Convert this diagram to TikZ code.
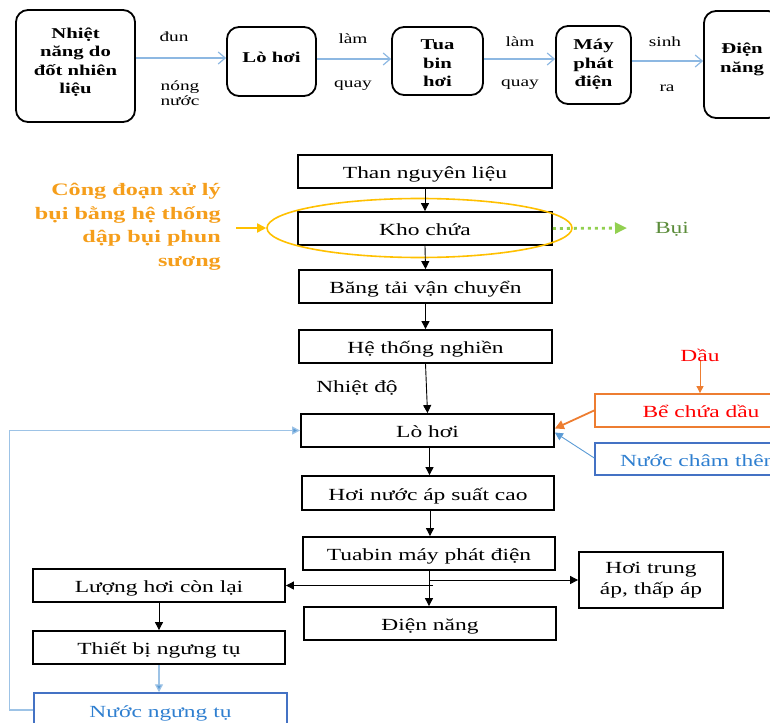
\documentclass[tikz,border=0pt]{standalone}
\usepackage{fontspec}
\setmainfont{Liberation Serif}[FakeStretch=1.38]
\usetikzlibrary{arrows.meta,shapes.geometric,calc}
\definecolor{topblue}{HTML}{8DB8E2}
\definecolor{ortext}{HTML}{F59E1B}
\definecolor{ellcol}{HTML}{FFC000}
\definecolor{orbox}{HTML}{ED7D31}
\definecolor{redtext}{HTML}{FF0000}
\definecolor{bluebox}{HTML}{4472C4}
\definecolor{bluetext}{HTML}{2F7FD0}
\definecolor{lblue}{HTML}{9DC3E6}
\definecolor{tipblue}{HTML}{5B9BD5}
\definecolor{dotgreen}{HTML}{92D050}
\definecolor{greentext}{HTML}{5B8C3A}
\begin{document}
\begin{tikzpicture}[x=1pt,y=-1pt,
  rbx/.style n args={2}{draw=black, line width=1.8pt, rounded corners=12pt, inner sep=0pt,
    minimum width=#1, minimum height=#2},
  rtxt/.style={inner sep=0pt, align=center, font=\fontsize{15}{18.5}\selectfont\bfseries},
  bx/.style n args={2}{draw=black, line width=1.8pt, inner sep=0pt,
    minimum width=#1, minimum height=#2, align=center,
    font=\fontsize{17}{21}\selectfont},
  one/.style={text height=14pt, text depth=0pt},
  lbl/.style={inner sep=0pt, align=center, font=\fontsize{14}{15}\selectfont},
  toparr/.style={draw=topblue, line width=1.2pt, -{Straight Barb[length=7pt,width=12pt]}},
  arr/.style={draw=black, line width=0.9pt, -{Triangle[length=8pt,width=8pt]}},
  orarr/.style={draw=orbox, line width=1.8pt, -{Triangle[length=9pt,width=9pt]}},
  orthin/.style={draw=orbox, line width=0.9pt, -{Triangle[length=7pt,width=7pt]}},
  yelarr/.style={draw=ellcol, line width=1.8pt, -{Triangle[length=9pt,width=9pt]}},
  blarr/.style={draw=lblue, line width=1.3pt, -{Triangle[length=8pt,width=8pt,fill=tipblue]}},
  greenarr/.style={draw=dotgreen, line width=2.8pt, dash pattern=on 3pt off 4pt,
    -{Triangle[length=12pt,width=11pt,fill=dotgreen]}}
]
\useasboundingbox (0,0) rectangle (770,722);
\clip (0,0) rectangle (770,722);

% ---------- top row ----------
\node[rbx={119}{112}] (n1) at (75.5,66) {};
\node[rbx={89}{69}] (lo1) at (271.5,61.5) {};
\node[rbx={91}{68}] (tb) at (437.5,61) {};
\node[rbx={75}{78}] (mp) at (593.5,65) {};
\node[rbx={76}{107}] (dn) at (742,64.5) {};
\node[rtxt] (n1t) at (75.5,62) {Nhiệt\\năng do\\đốt nhiên\\liệu};
\node[rtxt] (lo1t) at (271.5,57) {Lò hơi};
\node[rtxt] (tbt) at (437.5,63.5) {Tua\\bin\\hơi};
\node[rtxt] (mpt) at (593.5,64.5) {Máy\\phát\\điện};
\node[rtxt] (dnt) at (742,59.5) {Điện\\năng};

\draw[toparr] ([yshift=3.5pt]lo1.west -| n1.east) -- ([yshift=3.5pt]lo1.west);
\draw[toparr] ([yshift=2.5pt]lo1.east) -- ([yshift=2.5pt]lo1.east -| tb.west);
\draw[toparr] ([yshift=2pt]tb.east) -- ([yshift=2pt]tb.east -| mp.west);
\draw[toparr] ([yshift=4pt]mp.east) -- ([yshift=4pt]mp.east -| dn.west);

\node[lbl] (l1) at (174,37) {đun};
\node[lbl] (l2) at (180,93) {nóng\\nước};
\node[lbl] (l3) at (353,39) {làm};
\node[lbl] (l4) at (353,86) {quay};
\node[lbl] (l5) at (520,42) {làm};
\node[lbl] (l6) at (520,85) {quay};
\node[lbl] (l7) at (665,42) {sinh};
\node[lbl] (l8) at (667,88) {ra};

% ---------- flowchart ----------
\node[bx={254}{33}, one] (than) at (425,171.5) {Than nguyên liệu};
\node[bx={254}{33}, one] (kho) at (425,228.5) {Kho chứa};
\node[bx={253}{33}, one] (bang) at (425.5,286.5) {Băng tải vận chuyển};
\node[bx={253}{33}, one] (he) at (425.5,346.5) {Hệ thống nghiền};
\node[bx={253}{33}, one] (lo) at (427.5,430.5) {Lò hơi};
\node[bx={252}{34}, one] (hoinuoc) at (428,493) {Hơi nước áp suất cao};
\node[bx={252}{33}, one] (tuabin) at (429,553.5) {Tuabin máy phát điện};
\node[bx={252}{33}, one] (dien) at (430,623.5) {Điện năng};
\node[bx={252}{33}, one] (luong) at (159,585.5) {Lượng hơi còn lại};
\node[bx={252}{33}, one] (thietbi) at (159,647.5) {Thiết bị ngưng tụ};
\node[bx={253}{34}, one, draw=bluebox, line width=1.5pt, text=bluetext] (nuoc) at (160.5,710) {Nước ngưng tụ};
\node[bx={144}{56}] (hoitrung) at (651,580) {Hơi trung\\áp, thấp áp};
\node[bx={212}{33}, one, draw=orbox, text=redtext] (be) at (701,410.5) {Bể chứa dầu};
\node[bx={212}{32}, one, draw=bluebox, line width=1.5pt, text=bluetext] (cham) at (701,459) {Nước châm thêm};

\node[inner sep=0pt, text=redtext, font=\fontsize{17}{21}\selectfont] (dau) at (700,355) {Dầu};
\node[inner sep=0pt, font=\fontsize{17}{21}\selectfont] (nhiet) at (357,388) {Nhiệt độ};
\node[inner sep=0pt, text=greentext, font=\fontsize{17}{21}\selectfont] (bui) at (672,229) {Bụi};
\node[inner sep=0pt, anchor=east, align=right, text=ortext,
  font=\fontsize{17.5}{23.5}\selectfont\bfseries] (cong) at (221,227)
  {Công đoạn xử lý\\bụi bằng hệ thống\\dập bụi phun\\sương};

\node[ellipse, draw=ellcol, line width=1.6pt, minimum width=305pt, minimum height=59pt, inner sep=0pt] (ell) at (419.5,228) {};
\coordinate (oa) at (236,228);
\draw[yelarr] (oa) -- (ell.west);
\coordinate (bg) at (627,228);
\draw[greenarr] (kho.east) -- (bg);

\draw[arr] (than.south) -- (kho.north);
\draw[arr] (kho.south) -- (bang.north);
\draw[arr] (bang.south) -- (bang.south |- he.north);
\draw[arr] (he.south) -- (lo.north);
\draw[arr] ([xshift=2pt]lo.south) -- ([xshift=2pt]lo.south |- hoinuoc.north);
\draw[arr] ([xshift=2pt]hoinuoc.south) -- ([xshift=2pt]hoinuoc.south |- tuabin.north);
\draw[arr] (tuabin.south) -- (tuabin.south |- dien.north);
\draw[arr] (tuabin.south |- hoitrung.west) -- (hoitrung.west);
\draw[arr] ([xshift=4pt]tuabin.south |- luong.east) -- (luong.east);
\draw[arr] (luong.south) -- (thietbi.north);
\draw[blarr] (thietbi.south) -- (thietbi.south |- nuoc.north);
\draw[blarr] (nuoc.west) -- ++(-24,0) |- (lo.west);

\draw[orthin] (dau.south) -- (dau.south |- be.north);
\draw[orarr] (be.west) -- ([yshift=2pt]lo.east);
\draw[draw=tipblue, line width=0.9pt, -{Triangle[length=8pt,width=8pt]}] ([yshift=1pt]cham.west) -- ([yshift=-2pt]lo.east);
\end{tikzpicture}
\end{document}
